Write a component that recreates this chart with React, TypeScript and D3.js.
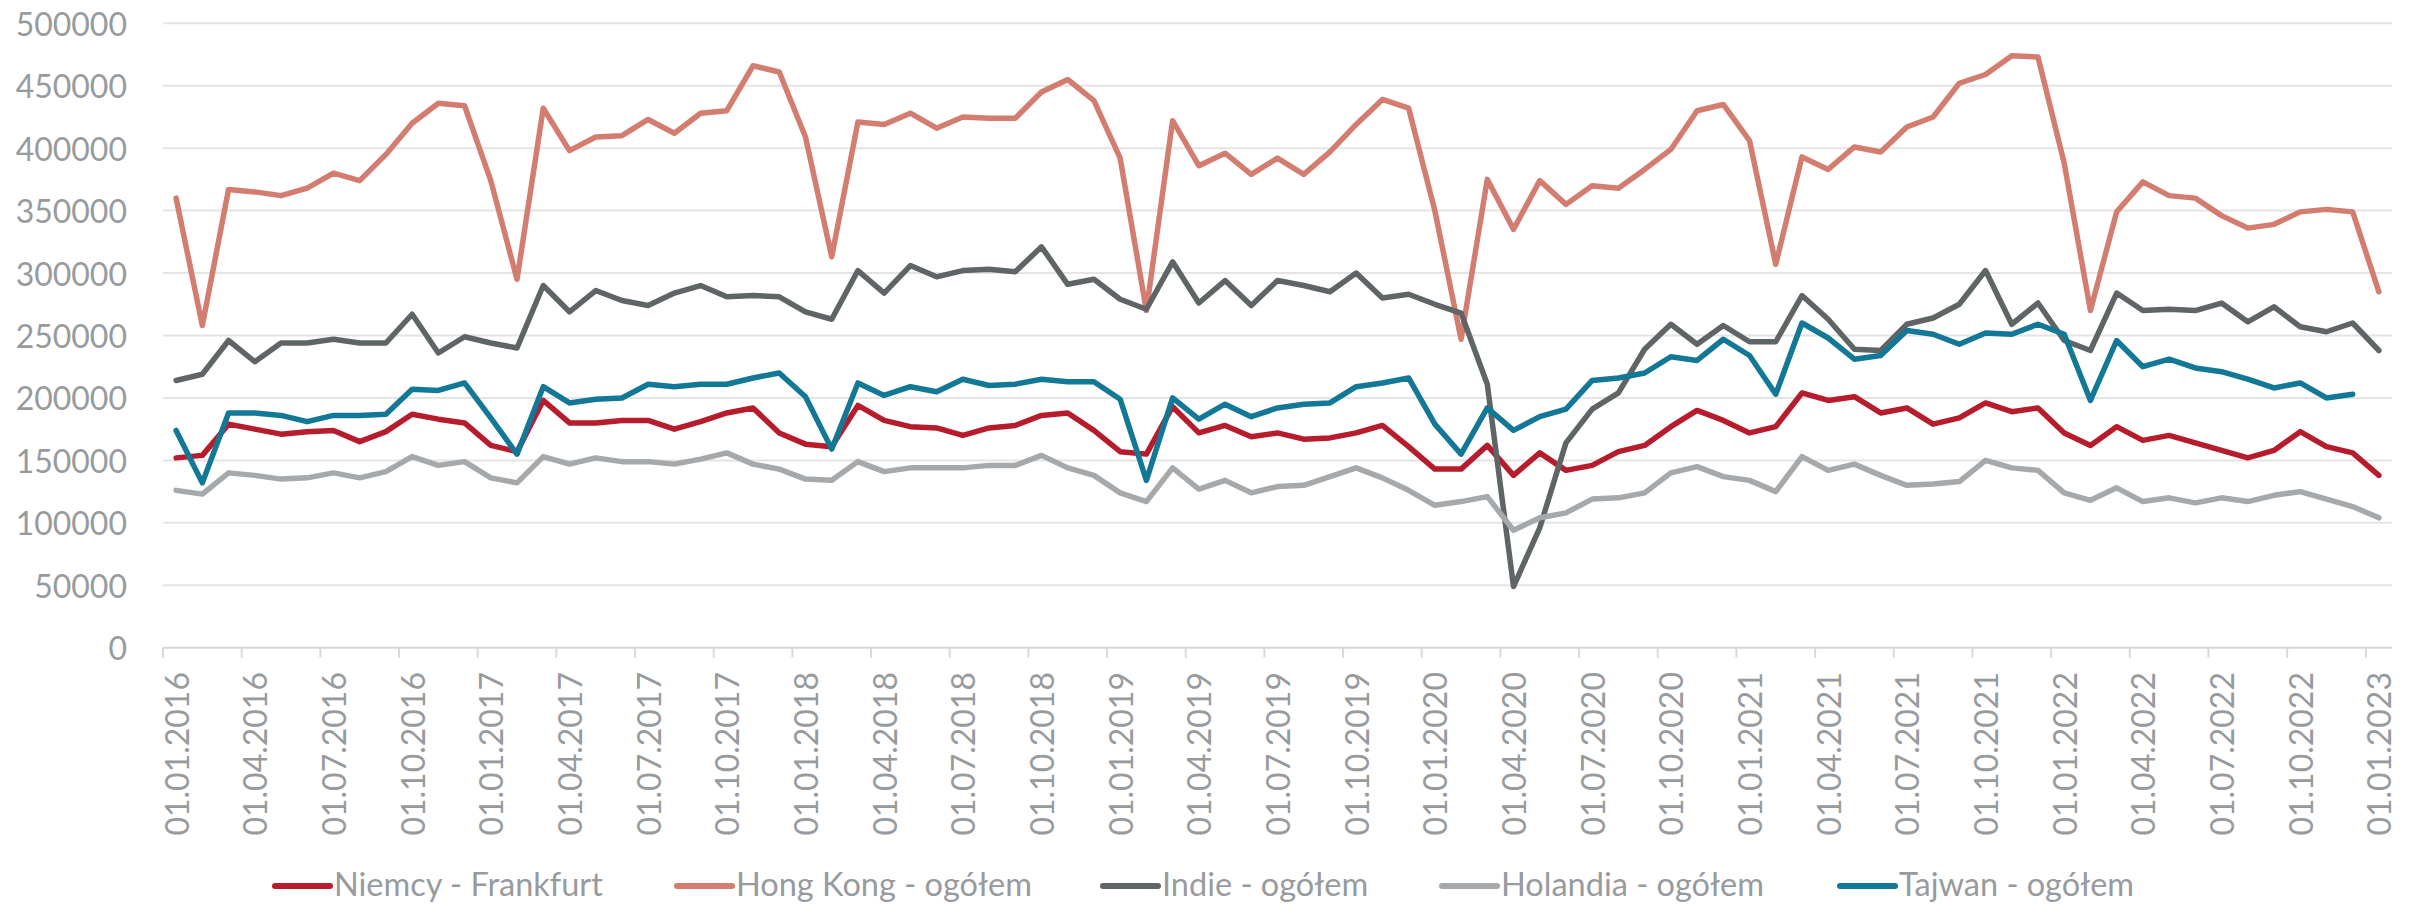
import React, { useEffect, useRef } from 'react';
import * as d3 from 'd3';

// monthly categories 01.01.2016 .. 01.01.2023
const months = d3.timeMonth.range(new Date(2016, 0, 1), new Date(2023, 1, 1));
const fmt = d3.timeFormat('%d.%m.%Y');
const categories = months.map(d => fmt(d));

const niemcy = [
  152000, 154000, 179000, 175000, 171000, 173000, 174000, 165000, 173000, 187000, 183000, 180000,
  162000, 157000, 198000, 180000, 180000, 182000, 182000, 175000, 181000, 188000, 192000, 172000,
  163000, 161000, 194000, 182000, 177000, 176000, 170000, 176000, 178000, 186000, 188000, 174000,
  157000, 155000, 193000, 172000, 178000, 169000, 172000, 167000, 168000, 172000, 178000, 161000,
  143000, 143000, 162000, 138000, 156000, 142000, 146000, 157000, 162000, 177000, 190000, 182000,
  172000, 177000, 204000, 198000, 201000, 188000, 192000, 179000, 184000, 196000, 189000, 192000,
  172000, 162000, 177000, 166000, 170000, 164000, 158000, 152000, 158000, 173000, 161000, 156000,
  138000,
];

const hongKong = [
  360000, 258000, 367000, 365000, 362000, 368000, 380000, 374000, 395000, 420000, 436000, 434000,
  374000, 295000, 432000, 398000, 409000, 410000, 423000, 412000, 428000, 430000, 466000, 461000,
  409000, 313000, 421000, 419000, 428000, 416000, 425000, 424000, 424000, 445000, 455000, 438000,
  392000, 270000, 422000, 386000, 396000, 379000, 392000, 379000, 397000, 419000, 439000, 432000,
  350000, 247000, 375000, 335000, 374000, 355000, 370000, 368000, 383000, 399000, 430000, 435000,
  406000, 307000, 393000, 383000, 401000, 397000, 417000, 425000, 452000, 459000, 474000, 473000,
  388000, 270000, 349000, 373000, 362000, 360000, 346000, 336000, 339000, 349000, 351000, 349000,
  285000,
];

const indie = [
  214000, 219000, 246000, 229000, 244000, 244000, 247000, 244000, 244000, 267000, 236000, 249000,
  244000, 240000, 290000, 269000, 286000, 278000, 274000, 284000, 290000, 281000, 282000, 281000,
  269000, 263000, 302000, 284000, 306000, 297000, 302000, 303000, 301000, 321000, 291000, 295000,
  279000, 271000, 309000, 276000, 294000, 274000, 294000, 290000, 285000, 300000, 280000, 283000,
  275000, 268000, 211000, 49000, 96000, 164000, 191000, 204000, 239000, 259000, 243000, 258000,
  245000, 245000, 282000, 263000, 239000, 238000, 259000, 264000, 275000, 302000, 259000, 276000,
  246000, 238000, 284000, 270000, 271000, 270000, 276000, 261000, 273000, 257000, 253000, 260000,
  238000,
];

const holandia = [
  126000, 123000, 140000, 138000, 135000, 136000, 140000, 136000, 141000, 153000, 146000, 149000,
  136000, 132000, 153000, 147000, 152000, 149000, 149000, 147000, 151000, 156000, 147000, 143000,
  135000, 134000, 149000, 141000, 144000, 144000, 144000, 146000, 146000, 154000, 144000, 138000,
  124000, 117000, 144000, 127000, 134000, 124000, 129000, 130000, 137000, 144000, 136000, 126000,
  114000, 117000, 121000, 94000, 104000, 108000, 119000, 120000, 124000, 140000, 145000, 137000,
  134000, 125000, 153000, 142000, 147000, 138000, 130000, 131000, 133000, 150000, 144000, 142000,
  124000, 118000, 128000, 117000, 120000, 116000, 120000, 117000, 122000, 125000, 119000, 113000,
  104000,
];

const tajwan = [
  174000, 132000, 188000, 188000, 186000, 181000, 186000, 186000, 187000, 207000, 206000, 212000,
  184000, 155000, 209000, 196000, 199000, 200000, 211000, 209000, 211000, 211000, 216000, 220000,
  201000, 159000, 212000, 202000, 209000, 205000, 215000, 210000, 211000, 215000, 213000, 213000,
  199000, 134000, 200000, 183000, 195000, 185000, 192000, 195000, 196000, 209000, 212000, 216000,
  179000, 155000, 192000, 174000, 185000, 191000, 214000, 216000, 220000, 233000, 230000, 247000,
  234000, 203000, 260000, 248000, 231000, 234000, 254000, 251000, 243000, 252000, 251000, 259000,
  251000, 198000, 246000, 225000, 231000, 224000, 221000, 215000, 208000, 212000, 200000, 203000,
  null,
];

const seriesNames = [
  'Niemcy - Frankfurt',
  'Hong Kong - ogółem',
  'Indie - ogółem',
  'Holandia - ogółem',
  'Tajwan - ogółem',
];
const seriesValues = [niemcy, hongKong, indie, holandia, tajwan];
const seriesColors = ['#b71c2d', '#d37d70', '#5f6466', '#a6a9ac', '#127895'];

const yTicks = [0, 50000, 100000, 150000, 200000, 250000, 300000, 350000, 400000, 450000, 500000];

const W = 2417;
const H = 906;

export default function App() {
  const ref = useRef<SVGSVGElement>(null);

  useEffect(() => {
    if (!ref.current) return;
    const svg = d3.select(ref.current);
    svg.selectAll('*').remove();

    const left = 163;
    const right = 2392;
    const top = 23.3;
    const bottom = 647.7;
    const textColor = '#979b9e';
    const font = 'Lato, "Open Sans", sans-serif';

    const x = d3.scaleBand<string>().domain(categories).range([left, right]).padding(0);
    const xc = (c: string) => (x(c) as number) + x.bandwidth() / 2;
    const y = d3.scaleLinear().domain([0, 500000]).range([bottom, top]);

    // gridlines
    svg.append('g')
      .selectAll('line')
      .data(yTicks.filter(t => t > 0))
      .join('line')
      .attr('x1', left)
      .attr('x2', right)
      .attr('y1', d => y(d))
      .attr('y2', d => y(d))
      .attr('stroke', '#e4e4e4')
      .attr('stroke-width', 2);

    // y labels
    svg.append('g')
      .selectAll('text')
      .data(yTicks)
      .join('text')
      .attr('x', 127)
      .attr('y', d => y(d))
      .attr('text-anchor', 'end')
      .attr('dominant-baseline', 'central')
      .attr('fill', textColor)
      .attr('font-family', font)
      .attr('font-size', 32)
      .text(d => String(d));

    // x axis line + ticks (between categories, every 3rd)
    svg.append('line')
      .attr('x1', left)
      .attr('x2', right)
      .attr('y1', bottom)
      .attr('y2', bottom)
      .attr('stroke', '#d9d9d9')
      .attr('stroke-width', 2);

    const labelCats = categories.filter((_, i) => i % 3 === 0);
    svg.append('g')
      .selectAll('line')
      .data(labelCats)
      .join('line')
      .attr('x1', d => x(d) as number)
      .attr('x2', d => x(d) as number)
      .attr('y1', bottom)
      .attr('y2', bottom + 10)
      .attr('stroke', '#d9d9d9')
      .attr('stroke-width', 2);

    svg.append('g')
      .selectAll('text')
      .data(labelCats)
      .join('text')
      .attr('transform', d => `translate(${xc(d)},672) rotate(-90)`)
      .attr('text-anchor', 'end')
      .attr('dominant-baseline', 'central')
      .attr('fill', textColor)
      .attr('font-family', font)
      .attr('font-size', 32)
      .text(d => d);

    // series
    const line = d3.line<number | null>()
      .defined(d => d !== null)
      .x((_, i) => xc(categories[i]))
      .y(d => y(d as number));

    seriesValues.forEach((vals, s) => {
      svg.append('path')
        .datum(vals)
        .attr('fill', 'none')
        .attr('stroke', seriesColors[s])
        .attr('stroke-width', 5.5)
        .attr('stroke-linejoin', 'round')
        .attr('stroke-linecap', 'round')
        .attr('d', line);
    });

    // legend
    const legendX = [275, 677, 1103, 1442, 1840];
    const legendY = 883;
    const lg = svg.append('g');
    seriesNames.forEach((name, s) => {
      lg.append('line')
        .attr('x1', legendX[s])
        .attr('x2', legendX[s] + 55)
        .attr('y1', legendY + 3)
        .attr('y2', legendY + 3)
        .attr('stroke', seriesColors[s])
        .attr('stroke-width', 6)
        .attr('stroke-linecap', 'round');
      lg.append('text')
        .attr('x', legendX[s] + 59)
        .attr('y', legendY)
        .attr('dominant-baseline', 'central')
        .attr('fill', textColor)
        .attr('font-family', font)
        .attr('font-size', 32.5)
        .text(name);
    });
  }, []);

  return (
    <svg
      ref={ref}
      width={W}
      height={H}
      style={{ position: 'absolute', left: 0, top: 0, background: '#fff' }}
    />
  );
}
